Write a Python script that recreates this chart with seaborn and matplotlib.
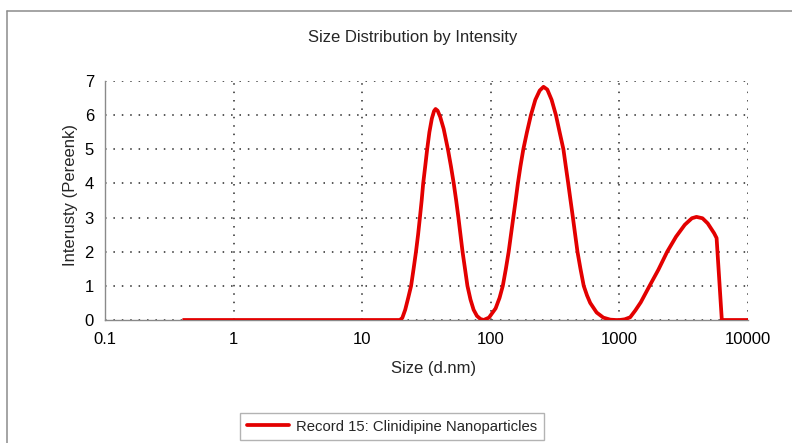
import matplotlib
matplotlib.use("Agg")
import matplotlib.pyplot as plt
from matplotlib.lines import Line2D
from matplotlib.ticker import MultipleLocator, LogLocator, NullFormatter
import seaborn as sns
import pandas as pd

# ---- data ----
sizes_nm = [0.4, 1.0, 10.0, 18.17, 19.6,
            20.5, 21.6, 22.8, 24.0, 25.1, 26.2, 27.2, 28.1, 29.0, 29.8,
            30.9, 32.0, 33.3, 34.8, 36.2, 37.2, 38.6, 40.4, 43.0, 46.4,
            49.0, 51.5, 53.8, 56.0, 58.1, 60.3, 63.0, 65.8, 69.5, 73.5,
            78.0, 83.0, 88.0,
            96.8, 109, 117, 124, 131, 137.7, 143.5, 149.6, 156, 162.4,
            170, 179, 191, 205, 222, 240, 257, 275, 297, 321, 343, 367,
            383, 400, 417, 435, 453, 472, 498, 528, 560, 593, 665, 750,
            850, 940, 1004, 1100, 1213, 1330, 1467, 1716, 2008, 2353,
            2757, 3226, 3661, 3974, 4426, 4862, 5456, 5699, 6258, 8000,
            10000]
intensity_pct = [0, 0, 0, 0, 0,
                 0.06, 0.3, 0.65, 1.0, 1.5, 2.0, 2.5, 3.0, 3.5, 4.0,
                 4.5, 5.0, 5.5, 5.9, 6.12, 6.18, 6.13, 5.95, 5.6, 5.0,
                 4.5, 4.0, 3.5, 3.0, 2.5, 2.0, 1.5, 1.0, 0.6, 0.3,
                 0.12, 0.03, 0.0,
                 0.07, 0.34, 0.65, 1.0, 1.5, 2.0, 2.5, 3.0, 3.5, 4.0,
                 4.5, 5.0, 5.5, 6.0, 6.45, 6.72, 6.83, 6.75, 6.45, 6.0,
                 5.5, 5.0, 4.5, 4.0, 3.5, 3.0, 2.5, 2.0, 1.5, 1.0, 0.72,
                 0.5, 0.22, 0.07,
                 0.01, 0.0, 0.0, 0.02, 0.08, 0.28, 0.52, 1.0, 1.47, 2.0,
                 2.44, 2.79, 2.98, 3.02, 2.98, 2.83, 2.54, 2.4, 0.0, 0.0,
                 0.0]
x_ticks = [0.1, 1, 10, 100, 1000, 10000]
x_tick_labels = ["0.1", "1", "10", "100", "1000", "10000"]
y_ticks = [0, 1, 2, 3, 4, 5, 6, 7]
series_label = "Record 15: Clinidipine Nanoparticles"
title_text = "Size Distribution by Intensity"
x_label = "Size (d.nm)"
y_label = "Interusty (Pereenk)"

df = pd.DataFrame({"size": sizes_nm, "intensity": intensity_pct})

sns.set_style("white")
plt.rcParams["font.family"] = ["Liberation Sans", "DejaVu Sans"]

W, H = 792, 443
fig = plt.figure(figsize=(W / 100, H / 100), dpi=100)
ax = fig.add_axes([105 / W, 1 - 320 / H, (748 - 105) / W, (320 - 81) / H])

red = "#e30000"
sns.lineplot(data=df, x="size", y="intensity", ax=ax, color=red,
             linewidth=2.7, legend=False, solid_joinstyle="round",
             solid_capstyle="butt", zorder=5)

ax.set_xscale("log")
ax.set_xlim(0.1, 10000)
ax.set_ylim(0, 7)
ax.set_xticks(x_ticks, x_tick_labels)
ax.set_yticks(y_ticks)
ax.yaxis.set_minor_locator(MultipleLocator(0.5))
ax.xaxis.set_minor_locator(LogLocator(base=10, subs=range(2, 10)))
ax.xaxis.set_minor_formatter(NullFormatter())

grey = "#8a8a8a"
ax.grid(True, which="major", color="#2a2a2a", linestyle=(0, (1, 4.5)),
        linewidth=1.1)
ax.set_axisbelow(True)
for s in ["top", "right"]:
    ax.spines[s].set_visible(False)
for s in ["left", "bottom"]:
    ax.spines[s].set_color(grey)
    ax.spines[s].set_linewidth(1.0)

ax.tick_params(axis="y", which="both", direction="inout", length=5,
               width=1, color=grey, labelsize=12, pad=5.5, labelcolor="black")
ax.tick_params(axis="x", which="major", direction="in", length=0,
               labelsize=12, pad=9, labelcolor="black")
ax.tick_params(axis="x", which="minor", direction="in", length=4,
               width=1, color="#b0b0b0")

ax.set_xlabel(x_label, fontsize=12)
ax.set_ylabel(y_label, fontsize=12)
ax.xaxis.set_label_coords((434 - 105) / 643, (320 - 361) / 239)
ax.yaxis.set_label_coords((78 - 105) / 643, 0.525)

fig.text(412.5 / W, 1 - 41.7 / H, title_text, ha="center", va="baseline",
         fontsize=12)

handle = Line2D([], [], color=red, linewidth=2.7)
leg = fig.legend([handle], [series_label], loc="center",
                 bbox_to_anchor=(392 / W, 1 - 426.5 / H), fontsize=10.7,
                 frameon=True, fancybox=False, handlelength=2.8,
                 handletextpad=0.5, borderpad=0.45)
leg.get_frame().set_edgecolor("#a0a0a0")
leg.get_frame().set_linewidth(1.0)

# outer panel border (top and left visible in reference)
fig.add_artist(Line2D([7 / W, 1.0], [1 - 11 / H, 1 - 11 / H],
                      transform=fig.transFigure, color="#8c8c8c", lw=1.1))
fig.add_artist(Line2D([7 / W, 7 / W], [1 - 11 / H, 0.0],
                      transform=fig.transFigure, color="#8c8c8c", lw=1.1))

fig.savefig("out.png", dpi=100, facecolor="white")
